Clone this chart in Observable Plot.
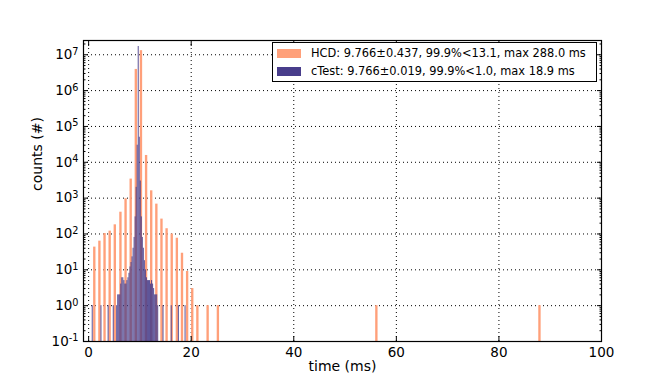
<!DOCTYPE html>
<html><head><meta charset="utf-8">
<script src="https://cdn.jsdelivr.net/npm/d3@7"></script>
<script src="https://cdn.jsdelivr.net/npm/@observablehq/plot@0.6"></script>
<style>
body{margin:0;background:#fff;font-family:"DejaVu Sans",sans-serif;}
#wrap{position:relative;width:664px;height:380px;}
#legend{position:absolute;left:272px;top:42px;width:325px;height:40px;border:1px solid #000;background:#fff;box-sizing:border-box;font-size:11.4px;color:#000;}
.row{position:absolute;left:0;height:12px;display:flex;align-items:center;white-space:nowrap;}
.sw{display:inline-block;width:24px;height:9px;margin-left:4px;margin-right:10px;}
</style></head>
<body><div id="wrap"></div>
<script>
// HCD histogram (orange)
const hcdTime  = [1.2, 2.2, 3.2, 4.2, 5.2, 6.3, 7.3, 8.3, 9.3, 10.3, 11.3, 12.3, 13.3, 14.3, 15.3, 16.3, 17.3, 18.3, 19.3, 20.3, 21.3, 23.3, 25.3, 56.2, 88.0];
const hcdCount = [43, 63, 103, 120, 180, 405, 960, 3400, 3.9e6, 1.3e7, 15500, 1600, 680, 260, 140, 100, 76, 29, 9, 3, 1, 1, 1, 1, 1];
// cTest histogram (purple)
const ctestTime  = [0.8, 2.5, 3.9, 4.9,
  5.566, 5.766, 5.966, 6.166, 6.366, 6.566, 6.766, 6.966, 7.166, 7.366, 7.566, 7.766, 7.966, 8.166, 8.366, 8.566, 8.766, 8.966, 9.166, 9.366, 9.566,
  9.766,
  9.966, 10.166, 10.366, 10.566, 10.766, 10.966, 11.166, 11.366, 11.566, 11.766, 11.966, 12.166, 12.366, 12.566, 12.766, 12.966, 13.166, 13.366, 13.566,
  14.6, 16.2, 17.6, 18.9];
const ctestCount = [1, 1, 1, 1,
  1, 2, 2, 2, 4, 6, 6, 5, 4, 4, 5, 6, 8, 12, 16, 23, 40, 80, 300, 2000, 30000,
  1.7e7,
  50000, 3000, 300, 80, 40, 18, 10, 6, 5, 5, 5, 4, 5, 4, 3, 2, 2, 2, 1,
  1, 1, 1, 1];
const hcdLabel = "HCD: 9.766\u00b10.437, 99.9%<13.1, max 288.0 ms";
const ctestLabel = "cTest: 9.766\u00b10.019, 99.9%<1.0, max 18.9 ms";
const xTicks = [0, 20, 40, 60, 80, 100];
const yTicks = [0.1, 1, 10, 100, 1e3, 1e4, 1e5, 1e6, 1e7];
const xLabel = "time (ms)";
const yLabel = "counts (#)";

const hcdColor = "#FFA07A", ctestColor = "#483D8B";
const yMin = 0.1, yMax = 2.5e7;
const hcdW = 0.46, ctestW = 0.2;

const hcd = hcdTime.map((t, i) => ({x1: t - hcdW/2, x2: t + hcdW/2, y: hcdCount[i]}));
const ctest = ctestTime.map((t, i) => ({x1: t - ctestW/2, x2: t + ctestW/2, y: ctestCount[i]}));

const sup = d => "10^" + Math.round(Math.log10(d));
const minorY = [];
for (let e = -1; e < 8; e++) for (let k = 2; k <= 9; k++) { const v = k * Math.pow(10, e); if (v < yMax) minorY.push(v); }
const blank = () => "";

const chart = Plot.plot({
  width: 664, height: 380,
  marginLeft: 83, marginRight: 63, marginTop: 40, marginBottom: 39,
  style: {fontFamily: "DejaVu Sans", fontSize: "13px", color: "#000", background: "#fff"},
  x: {domain: [-1, 100]},
  y: {type: "log", domain: [yMin, yMax]},
  marks: [
    Plot.ruleX(xTicks, {x: d => d, stroke: "#000", strokeDasharray: "1,3", strokeWidth: 1}),
    Plot.ruleY(yTicks, {y: d => d, stroke: "#000", strokeDasharray: "1,3", strokeWidth: 1}),
    Plot.rectY(hcd, {x1: "x1", x2: "x2", y1: yMin, y2: "y", fill: hcdColor, inset: 0}),
    Plot.rectY(ctest, {x1: "x1", x2: "x2", y1: yMin, y2: "y", fill: ctestColor, fillOpacity: 0.88, inset: 0}),
    Plot.axisX({ticks: xTicks, tickSize: -5, tickPadding: 11, label: null, fontSize: 13.5}),
    Plot.axisX({anchor: "top", ticks: xTicks, tickSize: -5, tickFormat: blank, label: null}),
    Plot.axisY({ticks: yTicks, tickFormat: sup, tickSize: -5, tickPadding: 10, label: null, fontSize: 13.5}),
    Plot.axisY({anchor: "right", ticks: yTicks, tickSize: -5, tickFormat: blank, label: null}),
    Plot.axisY({ticks: minorY, tickSize: -2.5, tickFormat: blank, label: null}),
    Plot.axisY({anchor: "right", ticks: minorY, tickSize: -2.5, tickFormat: blank, label: null}),
    Plot.frame({stroke: "#000", strokeWidth: 1.2}),
    Plot.text([xLabel], {text: d => d, frameAnchor: "bottom", dy: 25, fontSize: 14, lineAnchor: "middle"}),
    Plot.text([yLabel], {text: d => d, frameAnchor: "left", dx: -46, rotate: -90, fontSize: 14, lineAnchor: "middle"})
  ]
});
// render exponents as raised superscripts
chart.querySelectorAll("text").forEach(t => {
  const m = /^10\^(-?\d+)$/.exec(t.textContent);
  if (m) {
    t.textContent = "10";
    const ts = document.createElementNS("http://www.w3.org/2000/svg", "tspan");
    ts.setAttribute("dy", "-0.45em");
    ts.setAttribute("font-size", "0.72em");
    ts.textContent = m[1];
    t.appendChild(ts);
  }
});
const wrap = document.getElementById("wrap");
wrap.appendChild(chart);
const leg = document.createElement("div");
leg.id = "legend";
leg.innerHTML = `<div class="row" style="top:4px"><span class="sw" style="background:${hcdColor}"></span>${hcdLabel}</div>
<div class="row" style="top:22px"><span class="sw" style="background:${ctestColor}"></span>${ctestLabel}</div>`;
wrap.appendChild(leg);
</script></body></html>
